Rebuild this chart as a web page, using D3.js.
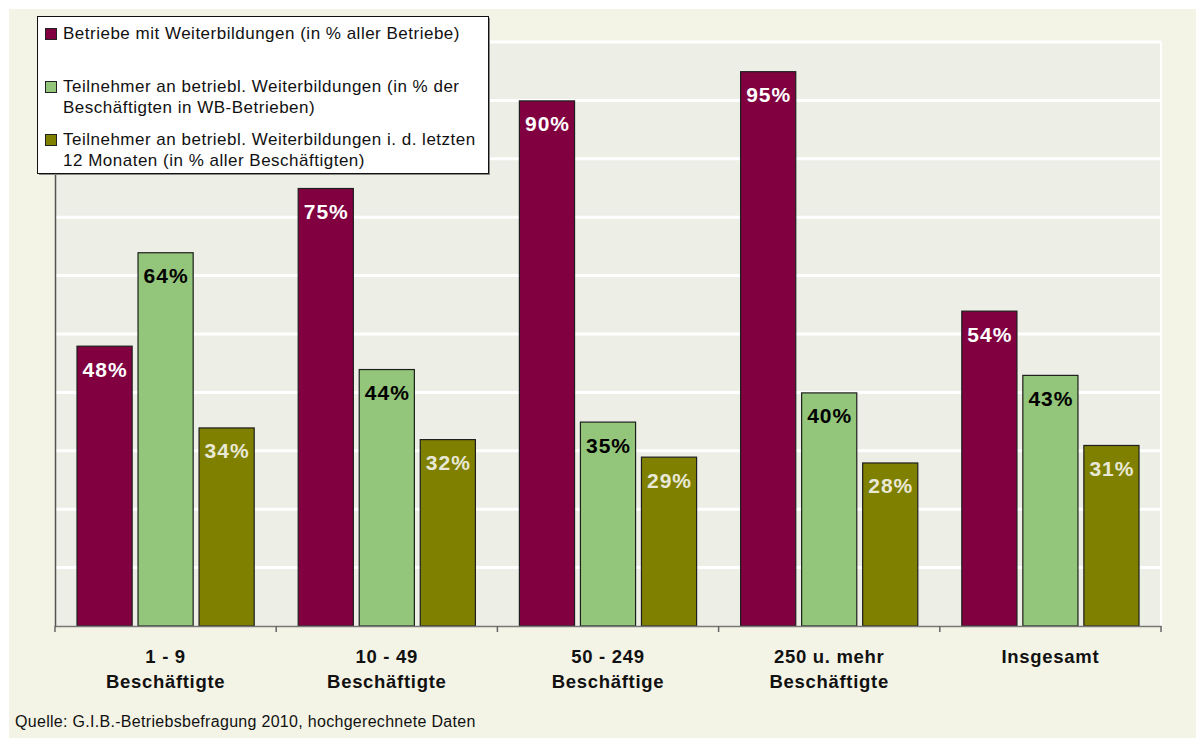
<!DOCTYPE html>
<html><head><meta charset="utf-8">
<script src="https://cdn.jsdelivr.net/npm/d3@7"></script>
<style>body{margin:0;background:#fff;}svg{display:block;font-family:"Liberation Sans",Arial,sans-serif;}</style>
</head><body><svg id="c" width="1196" height="738"></svg>
<script>
const categories = ["1 - 9|Beschäftigte","10 - 49|Beschäftigte","50 - 249|Beschäftige","250 u. mehr|Beschäftigte","Insgesamt"];
const seriesNames = ["Betriebe mit Weiterbildungen (in % aller Betriebe)",
  "Teilnehmer an betriebl. Weiterbildungen (in % der|Beschäftigten in WB-Betrieben)",
  "Teilnehmer an betriebl. Weiterbildungen i. d. letzten|12 Monaten (in % aller Beschäftigten)"];
const betriebe = [48, 75, 90, 95, 54];
const teilnehmerWB = [64, 44, 35, 40, 43];
const teilnehmerAlle = [34, 32, 29, 28, 31];
const yTicks = [10,20,30,40,50,60,70,80,90,100];
const source = "Quelle: G.I.B.-Betriebsbefragung 2010, hochgerechnete Daten";

const series = [betriebe, teilnehmerWB, teilnehmerAlle];
const colors = ["#800040","#93c67a","#808000"];
const labelColors = ["#ffffff","#000000","#e8e8d6"];

const svg = d3.select("#c");
svg.append("rect").attr("x",9).attr("y",9).attr("width",1187).attr("height",729).attr("fill","#f4f4e6");

const L=55,R=1161,T=42,B=626;
const x = d3.scaleBand().domain(categories).range([L,R]);
const xs = d3.scaleBand().domain([0,1,2]).range([21.5, x.bandwidth()-21.5]).paddingInner(0.08);
const y = d3.scaleLinear().domain([0,100]).range([B,T]);

svg.append("rect").attr("x",L).attr("y",T).attr("width",R-L).attr("height",B-T).attr("fill","#edeee6");
// gridlines
svg.append("g").selectAll("line").data(yTicks).join("line")
  .attr("x1",L).attr("x2",R).attr("y1",d=>y(d)).attr("y2",d=>y(d))
  .attr("stroke","#ffffff").attr("stroke-width",3);
svg.append("line").attr("x1",R).attr("x2",R).attr("y1",T).attr("y2",B).attr("stroke","#fff").attr("stroke-width",2);

// bars
const g = svg.append("g");
series.forEach((vals,si)=>{
  g.selectAll(".b"+si).data(vals).join("rect")
    .attr("x",(d,i)=>x(categories[i])+xs(si)+0.5)
    .attr("y",d=>y(d)+0.5)
    .attr("width",xs.bandwidth()-1)
    .attr("height",d=>B-y(d)-0.5)
    .attr("fill",colors[si]).attr("stroke","#1e1e1e").attr("stroke-width",1.2);
  g.selectAll(".t"+si).data(vals).join("text")
    .attr("x",(d,i)=>x(categories[i])+xs(si)+xs.bandwidth()/2+0.5)
    .attr("y",d=>y(d)+31)
    .attr("text-anchor","middle").attr("font-weight","bold").attr("font-size",21).attr("letter-spacing",1)
    .attr("fill",labelColors[si]).text(d=>d+"%");
});

// axes
const xAxis = d3.axisBottom(x).tickSize(0).tickFormat("");
const ax = svg.append("g").attr("transform",`translate(0,${B})`).call(xAxis);
ax.select(".domain").attr("stroke","#777").attr("stroke-width",1.5);
const bounds = d3.range(categories.length+1).map(i=>L+i*x.step());
svg.append("g").selectAll("line").data(bounds).join("line")
  .attr("x1",d=>d).attr("x2",d=>d).attr("y1",B).attr("y2",B+6).attr("stroke","#666").attr("stroke-width",1.5);
const yAxis = d3.axisLeft(y).tickValues([]).tickSize(0);
const ay = svg.append("g").attr("transform",`translate(${L},0)`).call(yAxis);
ay.select(".domain").attr("stroke","#555").attr("stroke-width",1.5);

// category labels
categories.forEach(c=>{
  const lines=c.split("|");
  const t=svg.append("text").attr("text-anchor","middle").attr("font-weight","bold").attr("font-size",18.5).attr("letter-spacing",0.7).attr("fill","#111");
  lines.forEach((ln,i)=>t.append("tspan").attr("x",x(c)+x.bandwidth()/2).attr("y",663+i*24.5).text(ln));
});

// legend
svg.append("rect").attr("x",39).attr("y",18).attr("width",451).attr("height",157).attr("fill","#888");
svg.append("rect").attr("x",37.5).attr("y",16.5).attr("width",451).attr("height",157).attr("fill","#fff").attr("stroke","#111").attr("stroke-width",1);
const legY=[39,92,145];
seriesNames.forEach((n,i)=>{
  svg.append("rect").attr("x",45.5).attr("y",legY[i]-10.5).attr("width",11).attr("height",11).attr("fill",colors[i]).attr("stroke","#222").attr("stroke-width",1);
  const t=svg.append("text").attr("font-size",17).attr("letter-spacing",0.5).attr("fill","#111");
  n.split("|").forEach((ln,j)=>t.append("tspan").attr("x",63).attr("y",legY[i]+j*21).text(ln));
});

svg.append("text").attr("x",15).attr("y",727).attr("font-size",16).attr("letter-spacing",0.3).attr("fill","#111").text(source);
</script></body></html>
